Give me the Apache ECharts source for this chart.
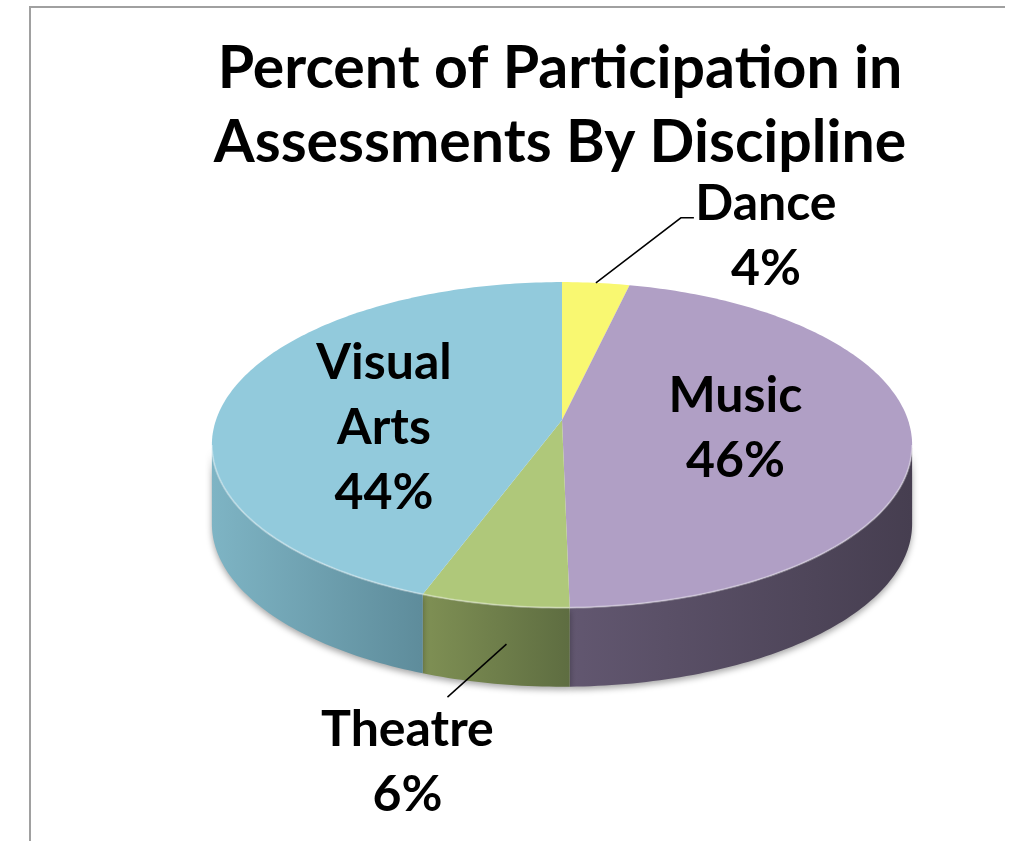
<!DOCTYPE html>
<html>
<head>
<meta charset="utf-8">
<script src="https://cdn.jsdelivr.net/npm/echarts@6/dist/echarts.min.js"></script>
<style>
  html, body { margin: 0; padding: 0; background: #fff; }
  #chart { width: 1027px; height: 841px; }
</style>
</head>
<body>
<div id="chart"></div>
<script>
// data
const categories = ['Dance', 'Music', 'Theatre', 'Visual Arts']
const shares = [3.6, 46.1, 5.9, 44.4]
const labelNames = ['Dance', 'Music', 'Theatre', 'Visual\nArts']

// styles
const topColors = ['#F9F871', '#B09FC5', '#AFC87A', '#92CADC']
const wallColors = [
  ['#C9C75C', '#A9A74A'],
  ['#625770', '#463E50'],
  ['#7F9054', '#5E6D41'],
  ['#7EB4C4', '#5E8C9B']
]
// label placement: inside (r = radial factor) or outside with a leader line
const labelLayout = [
  { outside: true, dz: 0, shift: [0, 0], leg: [85, -65, 13], text: [72, 19] },
  { outside: false, r: 0.5, dy: 0 },
  { outside: true, dz: 0.5, shift: [12, 0], leg: [-59, 53, 0], text: [-40, 65] },
  { outside: false, r: 0.53, dy: 22 }
]

// pie geometry (perspective ellipse)
const cx = 562, cy = 420, rx = 346, ry = 159, tilt = 0.153, depth = 79
const labelFont = 'bold 50px Lato'

const total = shares.reduce((a, b) => a + b, 0)
const startAngles = []
const endAngles = []
let acc = 0
shares.forEach(v => {
  startAngles.push(acc / total * Math.PI * 2)
  acc += v
  endAngles.push(acc / total * Math.PI * 2)
})

function proj(theta, f, dz) {
  const u = f * Math.sin(theta), v = f * Math.cos(theta)
  const d = 1 + tilt * v
  return [cx + rx * u / d, cy - ry * v / d + (dz || 0)]
}
function arc(a0, a1, dz) {
  const n = Math.max(2, Math.ceil((a1 - a0) / (Math.PI / 180)))
  const pts = []
  for (let i = 0; i <= n; i++) pts.push(proj(a0 + (a1 - a0) * i / n, 1, dz))
  return pts
}

// the side wall is visible between the two silhouette points
const wallMin = Math.acos(-tilt)
const wallMax = Math.PI * 2 - Math.acos(-tilt)

function renderWall(params, api) {
  const i = params.dataIndex
  const a0 = Math.max(startAngles[i], wallMin)
  const a1 = Math.min(endAngles[i], wallMax)
  if (a1 <= a0) return { type: 'group', children: [] }
  const top = arc(a0, a1, 0)
  const bottom = arc(a0, a1, depth).reverse()
  return {
    type: 'polygon',
    shape: { points: top.concat(bottom) },
    style: {
      fill: {
        type: 'linear', x: 0, y: 0, x2: 1, y2: 0,
        colorStops: [
          { offset: 0, color: wallColors[i][0] },
          { offset: 1, color: wallColors[i][1] }
        ]
      },
      shadowBlur: 6,
      shadowOffsetY: 3,
      shadowColor: 'rgba(0,0,0,0.35)'
    }
  }
}

function renderTop(params, api) {
  const i = params.dataIndex
  const a0 = startAngles[i], a1 = endAngles[i]
  const mid = (a0 + a1) / 2
  const pts = [[cx, cy]].concat(arc(a0, a1, 0))
  const children = [{
    type: 'polygon',
    shape: { points: pts },
    style: { fill: topColors[i] }
  }]
  // light bevel along the front rim
  const r0 = Math.max(a0, wallMin), r1 = Math.min(a1, wallMax)
  if (r1 > r0) {
    children.push({
      type: 'polyline',
      shape: { points: arc(r0, r1, 0) },
      style: { stroke: 'rgba(255,255,255,0.35)', lineWidth: 2, fill: null }
    })
  }
  const pct = Math.round(api.value(1) / total * 100) + '%'
  const lay = labelLayout[i]
  let tx, ty
  if (lay.outside) {
    const e = proj(mid, 1, depth * lay.dz)
    const p0 = [e[0] + lay.shift[0], e[1] + lay.shift[1]]
    const p1 = [p0[0] + lay.leg[0], p0[1] + lay.leg[1]]
    const p2 = [p1[0] + lay.leg[2], p1[1]]
    children.push({
      type: 'polyline',
      shape: { points: [p0, p1, p2] },
      style: { stroke: '#000', lineWidth: 1.5, fill: null }
    })
    tx = p2[0] + lay.text[0]
    ty = p2[1] + lay.text[1]
  } else {
    const p = proj(mid, lay.r, 0)
    tx = p[0]
    ty = p[1] + lay.dy
  }
  children.push({
    type: 'text',
    style: {
      text: labelNames[i] + '\n' + pct,
      x: tx, y: ty,
      font: labelFont,
      lineHeight: 65,
      fill: '#000',
      align: 'center',
      verticalAlign: 'middle'
    }
  })
  return { type: 'group', children: children }
}

const pieData = categories.map((c, i) => ({ name: c, value: [i, shares[i]] }))

const chart = echarts.init(document.getElementById('chart'))
chart.setOption({
  backgroundColor: '#fff',
  animation: false,
  graphic: [
    { type: 'line', shape: { x1: 29, y1: 7, x2: 1005, y2: 7 }, style: { stroke: '#A0A0A0', lineWidth: 2 } },
    { type: 'line', shape: { x1: 30, y1: 7, x2: 30, y2: 841 }, style: { stroke: '#A0A0A0', lineWidth: 2 } },
    {
      type: 'text',
      style: {
        text: 'Percent of Participation in\nAssessments By Discipline',
        x: 560, y: 106,
        font: 'bold 59px Lato',
        lineHeight: 74,
        fill: '#000',
        align: 'center',
        verticalAlign: 'middle'
      }
    }
  ],
  series: [
    {
      type: 'custom',
      coordinateSystem: 'none',
      silent: true,
      z: 1,
      data: pieData,
      renderItem: renderWall
    },
    {
      type: 'custom',
      coordinateSystem: 'none',
      silent: true,
      z: 2,
      data: pieData,
      renderItem: renderTop
    }
  ]
})
</script>
</body>
</html>
